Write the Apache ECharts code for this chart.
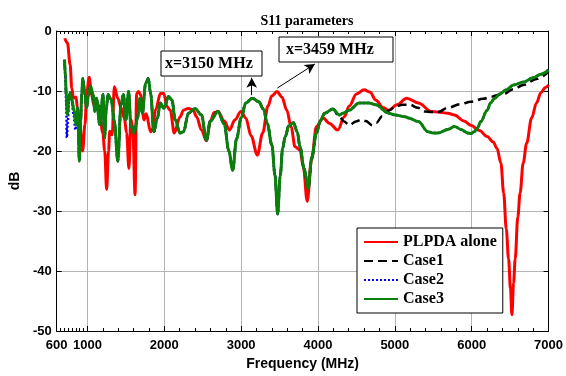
<!DOCTYPE html>
<html><head><meta charset="utf-8">
<script src="https://cdn.jsdelivr.net/npm/echarts@6/dist/echarts.min.js"></script>
<style>html,body{margin:0;padding:0;background:#fff}#c{width:566px;height:376px}</style>
</head><body><div id="c"></div>
<script>
const xTickLabels = [600,1000,2000,3000,4000,5000,6000,7000];
const xMinorTicks = [650,700,750,800,850,900,950,1200,1400,1600,1800,2200,2400,2600,2800,3200,3400,3600,3800,4200,4400,4600,4800,5200,5400,5600,5800,6200,6400,6600,6800];
const seriesNames = ['PLPDA alone','Case1','Case2','Case3'];

const redF = [705,740,775,796,818,852,869,903,937,968,
989,1023,1053,1083,1117,1150,1200,1225,1250,1275,
1290,1322,1350,1395,1437,1480,1510,1540,1566,1590,
1620,1640,1665,1694,1737,1765,1822,1850,1886,1950,
1993,2036,2078,2130,2206,2250,2314,2378,2420,2484,
2548,2600,2650,2698,2780,2847,2920,2997,3060,3130,
3211,3280,3350,3400,3467,3530,3595,3650,3702,3766,
3809,3860,3916,3980,4066,4151,4258,4343,4407,4500,
4600,4680,4750,4850,4920,5027,5155,5305,5476,5562,
5690,5776,5900,5989,6100,6202,6280,6330,6380,6416,
6450,6480,6505,6523,6545,6566,6600,6630,6670,6715,
6780,6843,6900,6960,7000];
const redDB = [-1.2,-2.0,-5.6,-9.5,-11.2,-11.0,-12.8,-16.2,-20,-15.6,
-10.6,-7.7,-10.6,-12.3,-11.7,-12.5,-17,-20,-26.4,-20,
-16.7,-17.3,-9.3,-11.2,-12.8,-14.5,-17,-22.9,-14.8,-16,
-27.3,-10.4,-10.1,-10.7,-14.8,-13.8,-16.8,-16.2,-13.2,-10.4,
-10.4,-12.6,-13.2,-17,-14.3,-13.2,-12.9,-13.2,-14.3,-16.5,
-18.3,-15,-13.6,-13.4,-15,-16.5,-14.8,-13.4,-14.5,-17.5,
-20.7,-17,-12.5,-10.8,-10.1,-11,-13.2,-16,-19.3,-19.8,
-22.6,-28.4,-21.5,-15.9,-14.5,-15.4,-16.5,-14.3,-12.5,-10.5,
-9.8,-10.2,-11.5,-12.8,-13.2,-12.3,-11.2,-12,-13.4,-13.5,
-13.7,-14,-15,-15.7,-16.6,-17.6,-18.5,-19.6,-22,-27,
-33,-38,-43,-47.3,-42,-38,-31,-27,-22,-18.7,
-14.5,-12,-10.3,-9.4,-9];

const greenF = [703,715,724,741,754,775,796,827,852,869,
880,895,912,925,940,968,989,1010,1040,1074,
1096,1117,1160,1203,1224,1245,1267,1309,1350,1395,
1437,1468,1502,1536,1566,1609,1651,1681,1715,1758,
1792,1822,1865,1908,1950,1993,2057,2100,2142,2206,
2250,2314,2400,2484,2548,2600,2698,2780,2840,2890,
2940,3000,3060,3147,3230,3290,3340,3400,3440,3475,
3510,3540,3574,3620,3681,3730,3766,3820,3873,3920,
3980,4030,4087,4193,4279,4322,4407,4536,4664,4750,
4920,5005,5134,5177,5305,5433,5497,5562,5690,5776,
5860,5946,5990,6032,6074,6117,6202,6245,6300,6374,
6450,6544,6672,6800,6900,7000];
const greenDB = [-4.8,-8,-10.6,-14,-11.7,-10.3,-11.4,-13.4,-15.6,-12.8,
-16,-21.7,-15,-10.6,-7.9,-10.6,-12.8,-11,-9.2,-10.6,
-13.4,-11.2,-15.6,-10.6,-17.8,-13,-10.6,-11.4,-15,-21.7,
-12.3,-10.6,-14.8,-10.1,-15.9,-17,-14.6,-11.2,-13.7,-8.7,
-7.9,-10.4,-16.8,-14.6,-12,-12.9,-10.9,-11.5,-14.8,-17,
-16.8,-13.7,-12.9,-14,-18.2,-15,-13.4,-15.5,-20,-23.2,
-18,-14.5,-12,-11.2,-11.8,-13,-15.4,-19,-24,-30.5,
-24,-19.5,-17.6,-15.8,-15.3,-16.8,-19.3,-23,-26.2,-21,
-17,-15,-13.7,-13,-14,-13.7,-13.2,-12,-12,-12.3,
-13.7,-14,-14.3,-14.5,-15.1,-16.8,-17,-17,-16.4,-15.9,
-16.4,-17,-17.1,-16.8,-16.2,-15.1,-13.2,-12,-11.2,-10.4,
-9.8,-9,-8.5,-7.8,-7.2,-6.5];

// Case1 follows Case3 below 4250 MHz, then:
const case1TailF = [4279,4340,4407,4493,4560,4621,4707,4760,4835,4930,
5005,5100,5198,5300,5391,5476,5562,5690,5850,5989,
6150,6245,6330,6416,6544,6672,6843,7000];
const case1TailDB = [-14.3,-15.1,-15.7,-15.1,-14.8,-15.0,-15.7,-15.3,-14.2,-13.2,
-12.6,-12.3,-12.3,-12.8,-13.4,-13.5,-13.5,-12.8,-12.2,-11.8,
-11.3,-11.0,-10.7,-10.5,-9.7,-9.0,-8.0,-6.8];
// Case2 follows Case3 above 870 MHz, with this start:
const case2HeadF = [703,715,724,732,745,760,775,796,820,845,869];
const case2HeadDB = [-4.8,-8,-12,-17.8,-15,-12,-10.5,-11.5,-14,-16.5,-12.8];

const zip = (f, d) => f.map((v, i) => [v, d[i]]);
const redData = zip(redF, redDB);
const greenData = zip(greenF, greenDB);
const case1Data = greenData.filter(p => p[0] < 4250).concat(zip(case1TailF, case1TailDB));
const case2Data = zip(case2HeadF, case2HeadDB).concat(greenData.filter(p => p[0] > 870));

const SANS = 'Liberation Sans, Arial, sans-serif';
const SERIF = 'Liberation Serif, Times New Roman, serif';
const GRIDC = '#b4b4b4';

const chart = echarts.init(document.getElementById('c'), null, {renderer: 'canvas'});
const baseX = {type: 'value', min: 600, max: 7000, gridIndex: 0};
const option = {
  animation: false,
  backgroundColor: '#fff',
  title: {text: 'S11 parameters', left: 302, top: 9, textAlign: 'center',
    textStyle: {fontFamily: SERIF, fontWeight: 'bold', fontSize: 14, color: '#000'}},
  grid: {left: 53, right: 14, top: 31, bottom: 45, containLabel: false},
  legend: {
    data: seriesNames, orient: 'vertical', left: 357, top: 228,
    padding: [6, 6, 6, 6], itemWidth: 34, itemHeight: 14, itemGap: 3,
    borderColor: '#000', borderWidth: 1, backgroundColor: '#fff',
    itemStyle: {opacity: 0},
    textStyle: {fontFamily: SERIF, fontWeight: 'bold', fontSize: 16, color: '#000'},
    selectedMode: false
  },
  xAxis: [
    Object.assign({}, baseX, {
      position: 'bottom',
      name: 'Frequency (MHz)', nameLocation: 'middle', nameGap: 26,
      nameTextStyle: {fontFamily: SANS, fontWeight: 'bold', fontSize: 14, color: '#000'},
      axisLine: {show: true, onZero: false, lineStyle: {color: '#000', width: 1}},
      axisTick: {show: true, inside: true, length: 5, customValues: xTickLabels, lineStyle: {color: '#000'}},
      axisLabel: {show: true, customValues: xTickLabels, margin: 8, formatter: v => String(v),
        fontFamily: SANS, fontWeight: 'bold', fontSize: 13, color: '#000'},
      splitLine: {show: true, lineStyle: {color: GRIDC, width: 1}}
    }),
    Object.assign({}, baseX, {
      position: 'bottom',
      axisLine: {show: false, onZero: false},
      axisTick: {show: true, inside: true, length: 3, customValues: xMinorTicks, lineStyle: {color: '#000'}},
      axisLabel: {show: false}, splitLine: {show: false}
    }),
    Object.assign({}, baseX, {
      position: 'top',
      axisLine: {show: true, onZero: false, lineStyle: {color: '#000', width: 1}},
      axisTick: {show: true, inside: true, length: 5, customValues: xTickLabels, lineStyle: {color: '#000'}},
      axisLabel: {show: false}, splitLine: {show: false}
    }),
    Object.assign({}, baseX, {
      position: 'top',
      axisLine: {show: false, onZero: false},
      axisTick: {show: true, inside: true, length: 3, customValues: xMinorTicks, lineStyle: {color: '#000'}},
      axisLabel: {show: false}, splitLine: {show: false}
    })
  ],
  yAxis: [
    {type: 'value', min: -50, max: 0, interval: 10, position: 'left',
      name: 'dB', nameLocation: 'middle', nameGap: 24, nameRotate: 90,
      nameTextStyle: {fontFamily: SANS, fontWeight: 'bold', fontSize: 14, color: '#000'},
      axisLine: {show: true, onZero: false, lineStyle: {color: '#000', width: 1}},
      axisTick: {show: true, inside: true, length: 5, lineStyle: {color: '#000'}},
      axisLabel: {margin: 5, formatter: v => String(v), fontFamily: SANS, fontWeight: 'bold', fontSize: 13, color: '#000'},
      splitLine: {show: true, lineStyle: {color: GRIDC, width: 1}}
    },
    {type: 'value', min: -50, max: 0, interval: 10, position: 'right',
      axisLine: {show: true, onZero: false, lineStyle: {color: '#000', width: 1}},
      axisTick: {show: true, inside: true, length: 5, lineStyle: {color: '#000'}},
      axisLabel: {show: false}, splitLine: {show: false}
    }
  ],
  series: [
    {name: seriesNames[0], type: 'line', data: redData, showSymbol: false, symbol: 'none',
      smooth: 0.35, smoothMonotone: 'x', color: '#ff0000',
      lineStyle: {color: '#ff0000', width: 3}},
    {name: seriesNames[1], type: 'line', data: case1Data, showSymbol: false, symbol: 'none',
      smooth: 0.35, smoothMonotone: 'x', color: '#000000',
      lineStyle: {color: '#000000', width: 2.5, type: [9, 5]}},
    {name: seriesNames[2], type: 'line', data: case2Data, showSymbol: false, symbol: 'none',
      smooth: 0.35, smoothMonotone: 'x', color: '#0000ff',
      lineStyle: {color: '#0000ff', width: 2.5, type: [2, 2]}},
    {name: seriesNames[3], type: 'line', data: greenData, showSymbol: false, symbol: 'none',
      smooth: 0.35, smoothMonotone: 'x', color: '#0a800a',
      lineStyle: {color: '#0a800a', width: 3},
      markLine: {
        silent: true, symbol: ['none', 'arrow'], symbolSize: [8, 10],
        label: {show: false},
        lineStyle: {color: '#000', width: 1, type: 'solid'},
        emphasis: {disabled: true},
        data: [
          [{coord: [3138, -10.7]}, {coord: [3138, -7.8]}],
          [{coord: [3472, -9.5]}, {coord: [3959, -5.5]}]
        ]
      }}
  ],
  graphic: [
    {type: 'rect', shape: {x: 161, y: 51, width: 101, height: 25},
      style: {fill: '#fff', stroke: '#000', lineWidth: 1}, z: 100},
    {type: 'text', x: 165, y: 64, z: 101,
      style: {text: 'x=3150 MHz', fill: '#000', font: 'bold 16px ' + SERIF, textVerticalAlign: 'middle', verticalAlign: 'middle'}},
    {type: 'rect', shape: {x: 279, y: 37, width: 114, height: 25},
      style: {fill: '#fff', stroke: '#000', lineWidth: 1}, z: 100},
    {type: 'text', x: 286, y: 50, z: 101,
      style: {text: 'x=3459 MHz', fill: '#000', font: 'bold 16px ' + SERIF, textVerticalAlign: 'middle', verticalAlign: 'middle'}}
  ]
};
chart.setOption(option);
</script>
</body></html>
